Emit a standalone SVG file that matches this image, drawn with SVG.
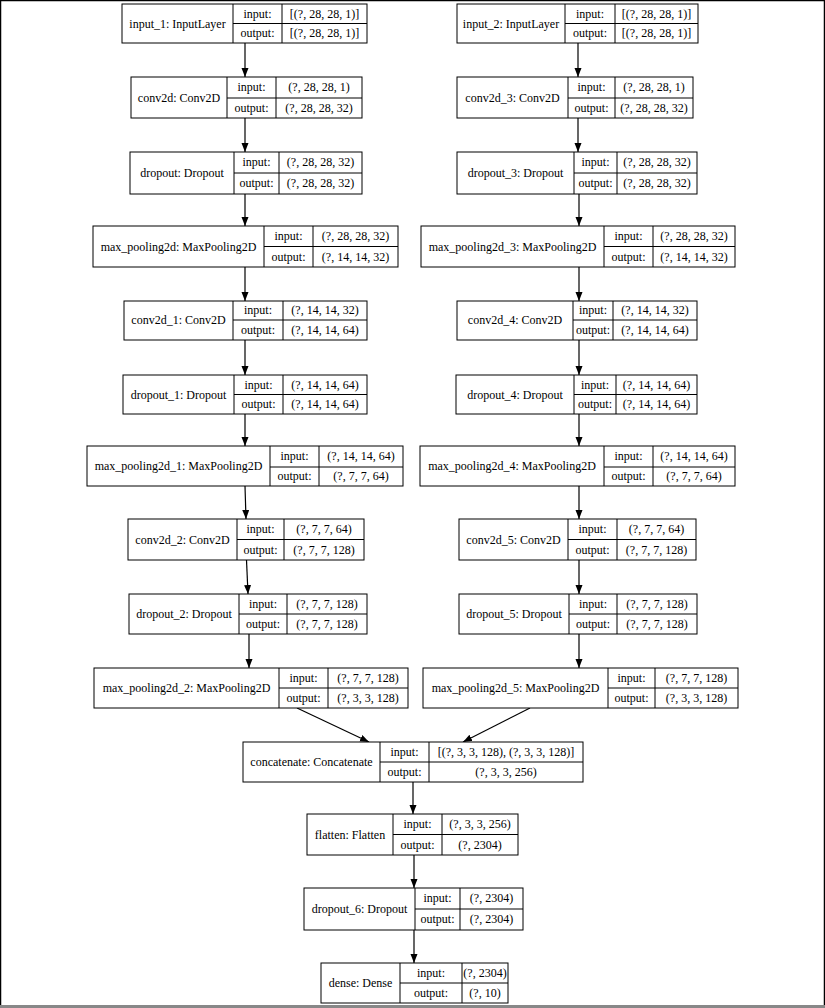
<svg xmlns="http://www.w3.org/2000/svg" width="825" height="1008" viewBox="0 0 825 1008">
<style>
rect.b{fill:#fff;stroke:#000;stroke-width:1}
line.d{stroke:#000;stroke-width:1}
text{font-family:"Liberation Serif","Times New Roman",serif;font-size:12px;fill:#000;text-anchor:middle}
.c line{stroke:#000;stroke-width:1.2;marker-end:url(#ah)}
</style>
<defs>
<marker id="ah" markerUnits="userSpaceOnUse" markerWidth="10" markerHeight="8" refX="9" refY="3.5" orient="auto"><path d="M0,0 L9,3.5 L0,7 z" fill="#000"/></marker>
</defs>
<rect x="0" y="0" width="825" height="1008" fill="#fff"/>
<line x1="0" y1="0.5" x2="825" y2="0.5" stroke="#000" stroke-width="1.5"/>
<line x1="0.5" y1="0" x2="0.5" y2="1005" stroke="#000" stroke-width="1.5"/>
<line x1="824.5" y1="0" x2="824.5" y2="1005" stroke="#000" stroke-width="1.5"/>
<rect x="0" y="1005" width="825" height="3" fill="#888"/>

<g id="connectors" class="c">
<line x1="245" y1="43" x2="245" y2="77"/>
<line x1="245" y1="118" x2="245" y2="152"/>
<line x1="245" y1="194" x2="245" y2="226"/>
<line x1="245" y1="267" x2="245" y2="301"/>
<line x1="245" y1="340" x2="245" y2="375"/>
<line x1="245" y1="414" x2="245" y2="446"/>
<line x1="245" y1="486" x2="246" y2="519"/>
<line x1="246.5" y1="560" x2="248" y2="594"/>
<line x1="249" y1="634" x2="249" y2="668"/>
<line x1="578" y1="43" x2="578" y2="77"/>
<line x1="578" y1="118" x2="578" y2="152"/>
<line x1="579" y1="194" x2="579" y2="226"/>
<line x1="579" y1="267" x2="579" y2="301"/>
<line x1="579" y1="340" x2="579" y2="375"/>
<line x1="579" y1="414" x2="579" y2="446"/>
<line x1="579" y1="486" x2="579" y2="519"/>
<line x1="579" y1="560" x2="579" y2="594"/>
<line x1="579" y1="634" x2="579" y2="668"/>
<line x1="297" y1="708" x2="369" y2="742"/>
<line x1="530" y1="708" x2="463" y2="742"/>
<line x1="413" y1="782" x2="413" y2="814"/>
<line x1="414" y1="855" x2="414" y2="888"/>
<line x1="414" y1="930" x2="414" y2="963"/>
</g>

<g id="input_1"><rect class="b" x="122" y="4" width="245" height="39"/><line class="d" x1="233" y1="4" x2="233" y2="43"/><line class="d" x1="282" y1="4" x2="282" y2="43"/><line class="d" x1="233" y1="23.5" x2="367" y2="23.5"/>
<text x="177.5" y="27.5">input_1: InputLayer</text><text x="257.5" y="17.5">input:</text><text x="257.5" y="37">output:</text><text x="324.5" y="17.5">[(?, 28, 28, 1)]</text><text x="324.5" y="37">[(?, 28, 28, 1)]</text></g>

<g id="conv2d"><rect class="b" x="131" y="77" width="231" height="41"/><line class="d" x1="227" y1="77" x2="227" y2="118"/><line class="d" x1="276" y1="77" x2="276" y2="118"/><line class="d" x1="227" y1="98" x2="362" y2="98"/>
<text x="179" y="101.5">conv2d: Conv2D</text><text x="251.5" y="91">input:</text><text x="251.5" y="112">output:</text><text x="319" y="91">(?, 28, 28, 1)</text><text x="319" y="112">(?, 28, 28, 32)</text></g>

<g id="dropout"><rect class="b" x="130" y="152" width="232" height="42"/><line class="d" x1="234" y1="152" x2="234" y2="194"/><line class="d" x1="279" y1="152" x2="279" y2="194"/><line class="d" x1="234" y1="173" x2="362" y2="173"/>
<text x="182" y="177">dropout: Dropout</text><text x="256.5" y="166">input:</text><text x="256.5" y="187">output:</text><text x="320.5" y="166">(?, 28, 28, 32)</text><text x="320.5" y="187">(?, 28, 28, 32)</text></g>

<g id="max_pooling2d"><rect class="b" x="93" y="226" width="305" height="41"/><line class="d" x1="264" y1="226" x2="264" y2="267"/><line class="d" x1="313" y1="226" x2="313" y2="267"/><line class="d" x1="264" y1="246.5" x2="398" y2="246.5"/>
<text x="178.5" y="250.5">max_pooling2d: MaxPooling2D</text><text x="288.5" y="240">input:</text><text x="288.5" y="261">output:</text><text x="355.5" y="240">(?, 28, 28, 32)</text><text x="355.5" y="261">(?, 14, 14, 32)</text></g>

<g id="conv2d_1"><rect class="b" x="124" y="301" width="243" height="39"/><line class="d" x1="233" y1="301" x2="233" y2="340"/><line class="d" x1="283" y1="301" x2="283" y2="340"/><line class="d" x1="233" y1="320" x2="367" y2="320"/>
<text x="178.5" y="324">conv2d_1: Conv2D</text><text x="258" y="314">input:</text><text x="258" y="334">output:</text><text x="325" y="314">(?, 14, 14, 32)</text><text x="325" y="334">(?, 14, 14, 64)</text></g>

<g id="dropout_1"><rect class="b" x="123" y="375" width="244" height="39"/><line class="d" x1="234" y1="375" x2="234" y2="414"/><line class="d" x1="283" y1="375" x2="283" y2="414"/><line class="d" x1="234" y1="394.5" x2="367" y2="394.5"/>
<text x="178.5" y="398.5">dropout_1: Dropout</text><text x="258.5" y="388.5">input:</text><text x="258.5" y="408">output:</text><text x="325" y="388.5">(?, 14, 14, 64)</text><text x="325" y="408">(?, 14, 14, 64)</text></g>

<g id="max_pooling2d_1"><rect class="b" x="87" y="446" width="316" height="40"/><line class="d" x1="270" y1="446" x2="270" y2="486"/><line class="d" x1="319" y1="446" x2="319" y2="486"/><line class="d" x1="270" y1="467" x2="403" y2="467"/>
<text x="178.5" y="470">max_pooling2d_1: MaxPooling2D</text><text x="294.5" y="460">input:</text><text x="294.5" y="480">output:</text><text x="361" y="460">(?, 14, 14, 64)</text><text x="361" y="480">(?, 7, 7, 64)</text></g>

<g id="conv2d_2"><rect class="b" x="128" y="519" width="236" height="41"/><line class="d" x1="237" y1="519" x2="237" y2="560"/><line class="d" x1="284" y1="519" x2="284" y2="560"/><line class="d" x1="237" y1="539.5" x2="364" y2="539.5"/>
<text x="182.5" y="543.5">conv2d_2: Conv2D</text><text x="260.5" y="533">input:</text><text x="260.5" y="554">output:</text><text x="324" y="533">(?, 7, 7, 64)</text><text x="324" y="554">(?, 7, 7, 128)</text></g>

<g id="dropout_2"><rect class="b" x="129" y="594" width="238" height="40"/><line class="d" x1="239" y1="594" x2="239" y2="634"/><line class="d" x1="287" y1="594" x2="287" y2="634"/><line class="d" x1="239" y1="614" x2="367" y2="614"/>
<text x="184" y="618">dropout_2: Dropout</text><text x="263" y="608">input:</text><text x="263" y="628">output:</text><text x="327" y="608">(?, 7, 7, 128)</text><text x="327" y="628">(?, 7, 7, 128)</text></g>

<g id="max_pooling2d_2"><rect class="b" x="94" y="668" width="314" height="40"/><line class="d" x1="279" y1="668" x2="279" y2="708"/><line class="d" x1="328" y1="668" x2="328" y2="708"/><line class="d" x1="279" y1="688" x2="408" y2="688"/>
<text x="186.5" y="692">max_pooling2d_2: MaxPooling2D</text><text x="303.5" y="682">input:</text><text x="303.5" y="702">output:</text><text x="368" y="682">(?, 7, 7, 128)</text><text x="368" y="702">(?, 3, 3, 128)</text></g>

<g id="input_2"><rect class="b" x="457" y="4" width="241" height="39"/><line class="d" x1="565" y1="4" x2="565" y2="43"/><line class="d" x1="615" y1="4" x2="615" y2="43"/><line class="d" x1="565" y1="23.5" x2="698" y2="23.5"/>
<text x="511" y="27.5">input_2: InputLayer</text><text x="590" y="17.5">input:</text><text x="590" y="37">output:</text><text x="656.5" y="17.5">[(?, 28, 28, 1)]</text><text x="656.5" y="37">[(?, 28, 28, 1)]</text></g>

<g id="conv2d_3"><rect class="b" x="457" y="77" width="236" height="41"/><line class="d" x1="568" y1="77" x2="568" y2="118"/><line class="d" x1="615" y1="77" x2="615" y2="118"/><line class="d" x1="568" y1="98" x2="693" y2="98"/>
<text x="512.5" y="101.5">conv2d_3: Conv2D</text><text x="591.5" y="91">input:</text><text x="591.5" y="112">output:</text><text x="654" y="91">(?, 28, 28, 1)</text><text x="654" y="112">(?, 28, 28, 32)</text></g>

<g id="dropout_3"><rect class="b" x="457" y="152" width="240" height="42"/><line class="d" x1="574" y1="152" x2="574" y2="194"/><line class="d" x1="617" y1="152" x2="617" y2="194"/><line class="d" x1="574" y1="173" x2="697" y2="173"/>
<text x="515.5" y="177">dropout_3: Dropout</text><text x="595.5" y="166">input:</text><text x="595.5" y="187">output:</text><text x="657" y="166">(?, 28, 28, 32)</text><text x="657" y="187">(?, 28, 28, 32)</text></g>

<g id="max_pooling2d_3"><rect class="b" x="421" y="226" width="314" height="41"/><line class="d" x1="604" y1="226" x2="604" y2="267"/><line class="d" x1="653" y1="226" x2="653" y2="267"/><line class="d" x1="604" y1="246.5" x2="735" y2="246.5"/>
<text x="512.5" y="250.5">max_pooling2d_3: MaxPooling2D</text><text x="628.5" y="240">input:</text><text x="628.5" y="261">output:</text><text x="694" y="240">(?, 28, 28, 32)</text><text x="694" y="261">(?, 14, 14, 32)</text></g>

<g id="conv2d_4"><rect class="b" x="457" y="301" width="240" height="39"/><line class="d" x1="573" y1="301" x2="573" y2="340"/><line class="d" x1="613" y1="301" x2="613" y2="340"/><line class="d" x1="573" y1="320" x2="697" y2="320"/>
<text x="515" y="324">conv2d_4: Conv2D</text><text x="593" y="314">input:</text><text x="593" y="334">output:</text><text x="655" y="314">(?, 14, 14, 32)</text><text x="655" y="334">(?, 14, 14, 64)</text></g>

<g id="dropout_4"><rect class="b" x="456" y="375" width="241" height="39"/><line class="d" x1="574" y1="375" x2="574" y2="414"/><line class="d" x1="616" y1="375" x2="616" y2="414"/><line class="d" x1="574" y1="394.5" x2="697" y2="394.5"/>
<text x="515" y="398.5">dropout_4: Dropout</text><text x="595" y="388.5">input:</text><text x="595" y="408">output:</text><text x="656.5" y="388.5">(?, 14, 14, 64)</text><text x="656.5" y="408">(?, 14, 14, 64)</text></g>

<g id="max_pooling2d_4"><rect class="b" x="420" y="446" width="315" height="40"/><line class="d" x1="604" y1="446" x2="604" y2="486"/><line class="d" x1="653" y1="446" x2="653" y2="486"/><line class="d" x1="604" y1="467" x2="735" y2="467"/>
<text x="512" y="470">max_pooling2d_4: MaxPooling2D</text><text x="628.5" y="460">input:</text><text x="628.5" y="480">output:</text><text x="694" y="460">(?, 14, 14, 64)</text><text x="694" y="480">(?, 7, 7, 64)</text></g>

<g id="conv2d_5"><rect class="b" x="459" y="519" width="237" height="41"/><line class="d" x1="568" y1="519" x2="568" y2="560"/><line class="d" x1="617" y1="519" x2="617" y2="560"/><line class="d" x1="568" y1="539.5" x2="696" y2="539.5"/>
<text x="513.5" y="543.5">conv2d_5: Conv2D</text><text x="592.5" y="533">input:</text><text x="592.5" y="554">output:</text><text x="656.5" y="533">(?, 7, 7, 64)</text><text x="656.5" y="554">(?, 7, 7, 128)</text></g>

<g id="dropout_5"><rect class="b" x="459" y="594" width="238" height="40"/><line class="d" x1="569" y1="594" x2="569" y2="634"/><line class="d" x1="617" y1="594" x2="617" y2="634"/><line class="d" x1="569" y1="614" x2="697" y2="614"/>
<text x="514" y="618">dropout_5: Dropout</text><text x="593" y="608">input:</text><text x="593" y="628">output:</text><text x="657" y="608">(?, 7, 7, 128)</text><text x="657" y="628">(?, 7, 7, 128)</text></g>

<g id="max_pooling2d_5"><rect class="b" x="423" y="668" width="315" height="40"/><line class="d" x1="608" y1="668" x2="608" y2="708"/><line class="d" x1="655" y1="668" x2="655" y2="708"/><line class="d" x1="608" y1="688" x2="738" y2="688"/>
<text x="515.5" y="692">max_pooling2d_5: MaxPooling2D</text><text x="631.5" y="682">input:</text><text x="631.5" y="702">output:</text><text x="696.5" y="682">(?, 7, 7, 128)</text><text x="696.5" y="702">(?, 3, 3, 128)</text></g>

<g id="concatenate"><rect class="b" x="243" y="742" width="340" height="40"/><line class="d" x1="380" y1="742" x2="380" y2="782"/><line class="d" x1="429" y1="742" x2="429" y2="782"/><line class="d" x1="380" y1="762" x2="583" y2="762"/>
<text x="311.5" y="766">concatenate: Concatenate</text><text x="404.5" y="756">input:</text><text x="404.5" y="776">output:</text><text x="506" y="756">[(?, 3, 3, 128), (?, 3, 3, 128)]</text><text x="506" y="776">(?, 3, 3, 256)</text></g>

<g id="flatten"><rect class="b" x="307" y="814" width="211" height="41"/><line class="d" x1="393" y1="814" x2="393" y2="855"/><line class="d" x1="442" y1="814" x2="442" y2="855"/><line class="d" x1="393" y1="834.5" x2="518" y2="834.5"/>
<text x="350" y="838.5">flatten: Flatten</text><text x="417.5" y="828">input:</text><text x="417.5" y="849">output:</text><text x="480" y="828">(?, 3, 3, 256)</text><text x="480" y="849">(?, 2304)</text></g>

<g id="dropout_6"><rect class="b" x="304" y="888" width="219" height="42"/><line class="d" x1="415" y1="888" x2="415" y2="930"/><line class="d" x1="460" y1="888" x2="460" y2="930"/><line class="d" x1="415" y1="909" x2="523" y2="909"/>
<text x="359.5" y="913">dropout_6: Dropout</text><text x="437.5" y="902">input:</text><text x="437.5" y="923">output:</text><text x="491.5" y="902">(?, 2304)</text><text x="491.5" y="923">(?, 2304)</text></g>

<g id="dense"><rect class="b" x="321" y="963" width="187" height="40"/><line class="d" x1="400" y1="963" x2="400" y2="1003"/><line class="d" x1="462" y1="963" x2="462" y2="1003"/><line class="d" x1="400" y1="983" x2="508" y2="983"/>
<text x="360.5" y="987">dense: Dense</text><text x="431" y="977">input:</text><text x="431" y="997">output:</text><text x="485" y="977">(?, 2304)</text><text x="485" y="997">(?, 10)</text></g>
</svg>
